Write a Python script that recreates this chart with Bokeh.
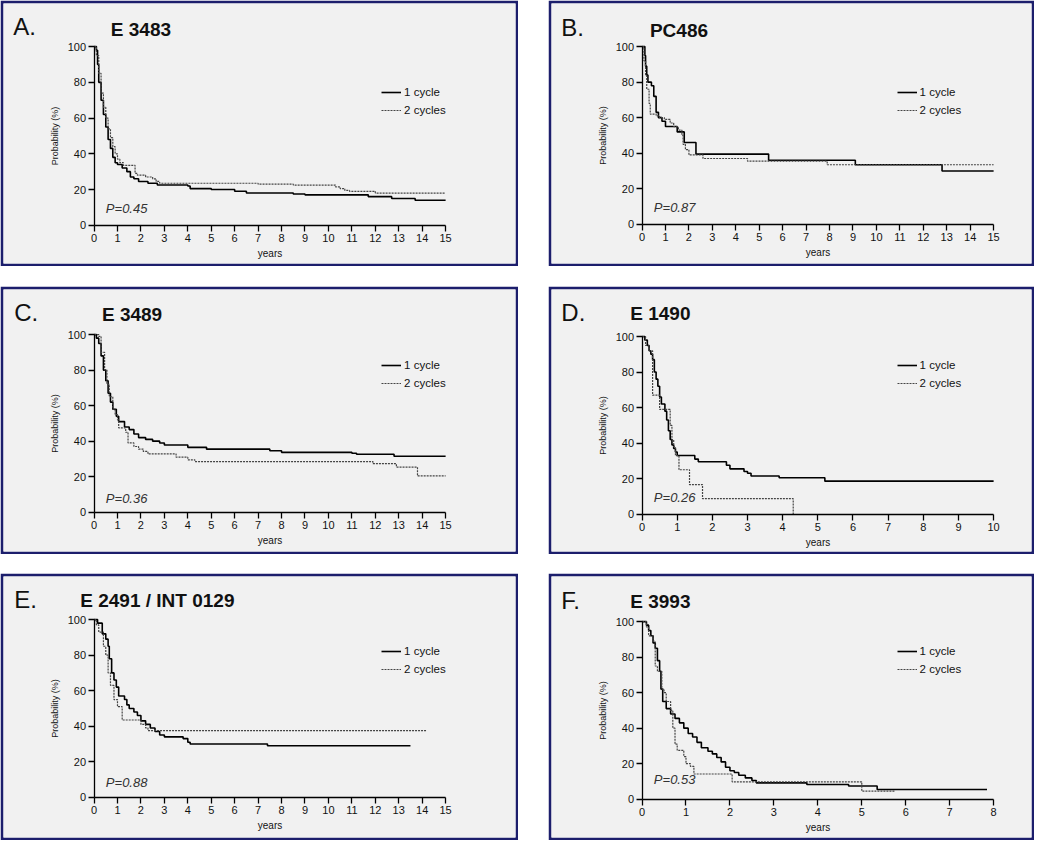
from bokeh.plotting import figure
from bokeh.models import LinearAxis, FixedTicker, Label, Legend, LegendItem, Range1d, Spacer, Grid
from bokeh.layouts import row, column
from bokeh.embed import file_html
from bokeh.resources import INLINE

# ---------------- data ----------------
series_labels = ["1 cycle", "2 cycles"]

# A. E 3483
a_1cycle_t = [0, 0.1, 0.15, 0.2, 0.3, 0.4, 0.5, 0.6, 0.7, 0.8, 0.9, 1.0, 1.2, 1.4, 1.55, 1.7, 1.9, 2.3, 2.7, 4.0, 4.1, 5.0, 6.0, 6.5, 8.5, 9.0, 11.7, 12.7, 13.7, 15.0]
a_1cycle_s = [100, 98, 90, 80, 70, 62, 55, 48, 43, 38, 35, 34, 32, 30, 27, 26, 24.5, 23.5, 22.5, 22, 20.5, 20, 19, 18, 17.5, 17, 16, 15, 14, 14]
a_2cycles_t = [0, 0.1, 0.2, 0.3, 0.4, 0.5, 0.6, 0.7, 0.8, 0.9, 1.0, 1.1, 1.25, 1.75, 1.85, 2.2, 2.5, 2.65, 2.8, 7.0, 8.5, 10.3, 10.5, 10.7, 10.9, 12.0, 15.0]
a_2cycles_s = [100, 95, 85, 74, 66, 60, 54, 49, 44, 40, 37, 35, 33.5, 29, 28, 27, 26, 24.5, 23.5, 23, 22.5, 21.5, 20.5, 19.5, 19, 18, 18]

# B. PC486
b_1cycle_t = [0, 0.12, 0.15, 0.2, 0.25, 0.4, 0.5, 0.6, 0.7, 0.85, 1.0, 1.5, 1.8, 2.3, 5.4, 9.1, 12.8, 15]
b_1cycle_s = [100, 95, 89, 84, 80, 78, 72, 63, 60, 58, 55, 52, 46, 39.5, 36, 33.5, 30, 30]
b_2cycles_t = [0, 0.08, 0.15, 0.2, 0.3, 0.35, 0.6, 0.75, 0.95, 1.2, 1.35, 1.55, 1.7, 1.75, 1.85, 2.0, 2.6, 4.5, 7.9, 15]
b_2cycles_s = [100, 92, 84, 76, 68, 62, 61, 60, 59, 57, 55, 53, 50, 45, 42, 39, 37, 35.5, 33.5, 33.5]

# C. E 3489
c_1cycle_t = [0, 0.1, 0.2, 0.3, 0.4, 0.5, 0.6, 0.7, 0.8, 0.95, 1.05, 1.3, 1.5, 1.7, 1.9, 2.2, 2.5, 2.8, 3.0, 4.0, 4.8, 7.5, 8.0, 11.0, 11.2, 12.8, 15]
c_1cycle_s = [100, 98, 95, 88, 80, 74, 67, 62, 58, 54, 51, 48, 46.5, 44, 42, 41, 40, 39, 37.8, 36.5, 35.5, 34.6, 33.7, 33.2, 32.6, 31.5, 31.5]
c_2cycles_t = [0, 0.2, 0.3, 0.45, 0.55, 0.65, 0.8, 0.9, 1.0, 1.05, 1.35, 1.45, 1.7, 1.9, 2.1, 2.3, 3.5, 4.0, 4.3, 11.9, 12.9, 13.8, 15]
c_2cycles_s = [100, 99, 90, 80, 72, 65, 58, 55, 52, 47.5, 45, 39, 37, 35.5, 34.2, 32.8, 31, 29.5, 28.5, 27.3, 25.4, 20.4, 20.4]

# D. E 1490
d_1cycle_t = [0, 0.08, 0.15, 0.2, 0.25, 0.3, 0.35, 0.4, 0.45, 0.5, 0.55, 0.65, 0.7, 0.75, 0.8, 0.85, 0.9, 0.95, 1.0, 1.5, 1.6, 2.4, 2.5, 2.9, 3.0, 3.1, 3.9, 5.2, 10]
d_1cycle_s = [100, 98, 95, 92, 90, 87, 80, 76, 72, 66, 62, 58, 53, 47, 42, 39, 37, 35, 33, 31, 29.5, 27.5, 25.5, 24, 23, 21.5, 20.5, 18.6, 18.6]
d_2cycles_t = [0, 0.1, 0.2, 0.3, 0.5, 0.8, 0.85, 0.9, 0.95, 1.05, 1.35, 1.72, 4.3]
d_2cycles_s = [100, 95, 92, 67, 59, 50, 42, 38, 33, 25, 16.6, 8.7, 0]

# E. E 2491 / INT 0129
e_1cycle_t = [0, 0.15, 0.35, 0.5, 0.6, 0.65, 0.75, 0.85, 0.95, 1.05, 1.3, 1.4, 1.5, 1.7, 1.85, 2.0, 2.2, 2.4, 2.6, 2.8, 3.0, 3.8, 4.0, 4.1, 7.4, 13.5]
e_1cycle_s = [100, 98, 92, 89, 85, 78, 70, 66, 62, 57, 55, 52, 50, 48, 46, 43, 41, 39, 37, 35, 34, 33, 31, 30, 29, 29]
e_2cycles_t = [0, 0.1, 0.2, 0.4, 0.5, 0.6, 0.7, 0.85, 1.0, 1.2, 2.0, 2.2, 2.3, 14.2]
e_2cycles_s = [100, 97, 93, 85, 80, 70, 63, 55, 51, 43.5, 41, 39, 37.5, 37.5]

# F. E 3993
f_1cycle_t = [0, 0.1, 0.15, 0.2, 0.25, 0.3, 0.35, 0.4, 0.43, 0.47, 0.55, 0.65, 0.75, 0.85, 0.95, 1.05, 1.15, 1.25, 1.35, 1.5, 1.6, 1.7, 1.8, 1.9, 2.0, 2.1, 2.2, 2.35, 2.5, 2.6, 3.75, 4.7, 5.35, 7.85]
f_1cycle_s = [100, 98, 95, 92, 88, 85, 78, 72, 62, 55, 51, 48, 45.5, 43, 40, 37, 35, 32, 29, 27, 25.5, 23.5, 21, 18, 16, 15, 13.5, 12, 10.5, 9.2, 8.3, 7.4, 5.5, 5.5]
f_2cycles_t = [0, 0.1, 0.15, 0.25, 0.3, 0.35, 0.45, 0.5, 0.55, 0.65, 0.7, 0.75, 0.8, 0.95, 1.0, 1.1, 1.18, 2.05, 5.0, 5.75]
f_2cycles_s = [100, 97, 92, 89, 75, 72, 62, 60, 55, 50, 40, 31, 27.5, 24, 20, 18.5, 14.2, 9.8, 4.5, 4.5]

panel_letters = ["A.", "B.", "C.", "D.", "E.", "F."]
panel_titles = ["E 3483", "PC486", "E 3489", "E 1490", "E 2491  / INT 0129", "E 3993"]
panel_xmax = [15, 15, 15, 10, 15, 8]
panel_pvalues = ["P=0.45", "P=0.87", "P=0.36", "P=0.26", "P=0.88", "P=0.53"]
y_ticks = [0, 20, 40, 60, 80, 100]
x_label = "years"
y_label = "Probability (%)"

# ---------------- styling / geometry ----------------
SX = 1034 / 1050
SY = 840 / 856
BW = 3
NAVY = "#1c1e6c"
BG = "#f1f1f1"
FONT = "Liberation Sans"

# reference-pixel geometry of each panel (relative to its own top-left)
GEOM = [
    dict(X0=95, X1=452, Y100=47, Y0=229, let=(13, 27), tit=(112, 30), leg=(387, 94), pv=(107, 212)),
    dict(X0=95, X1=452, Y100=47, Y0=228, let=(13, 27.5), tit=(103, 30.5), leg=(354, 94), pv=(107, 211)),
    dict(X0=95, X1=452, Y100=49, Y0=230, let=(14, 27), tit=(103, 29), leg=(387, 80), pv=(107, 216)),
    dict(X0=95, X1=452, Y100=51, Y0=232, let=(13, 27), tit=(83, 28), leg=(354, 80), pv=(107, 215)),
    dict(X0=95, X1=452, Y100=47, Y0=228, let=(14, 26), tit=(81, 28), leg=(387, 79), pv=(107, 213)),
    dict(X0=95, X1=452, Y100=49, Y0=230, let=(13, 28), tit=(83, 29), leg=(354, 79), pv=(107, 210)),
]
WIDTHS = [518, 486]
HEIGHTS = [266, 268, 267]


def make_panel(i, w, h, t1, s1, t2, s2):
    g = GEOM[i]
    xmax = panel_xmax[i]
    fx0 = g["X0"] * SX - BW
    fx1 = g["X1"] * SX - BW
    FW = w - 2 * BW
    kx = xmax / (fx1 - fx0)
    fy100 = g["Y100"] * SY - BW
    fy0 = g["Y0"] * SY - BW
    FH = h - 2 * BW
    ky = 100.0 / (fy0 - fy100)

    def dx(px):
        return (px * SX - BW - fx0) * kx

    def dy(py):
        return (fy0 - (py * SY - BW)) * ky

    p = figure(width=w, height=h,
               x_range=Range1d(-fx0 * kx, (FW - fx0) * kx),
               y_range=Range1d(-(FH - fy0) * ky, fy0 * ky),
               x_axis_location=None, y_axis_location=None,
               toolbar_location=None, output_backend="svg",
               title_location=None, min_border=BW,
               border_fill_color=NAVY, background_fill_color=BG,
               outline_line_color=None)
    for r in list(p.center):
        if isinstance(r, Grid):
            r.visible = False
    p.grid.visible = False

    xa = LinearAxis(fixed_location=0, bounds=(0, xmax),
                    ticker=FixedTicker(ticks=list(range(xmax + 1))),
                    axis_label=x_label)
    ya = LinearAxis(fixed_location=0, bounds=(0, 100),
                    ticker=FixedTicker(ticks=y_ticks),
                    axis_label=y_label)
    for ax in (xa, ya):
        ax.axis_line_color = "black"
        ax.axis_line_width = 1.3
        ax.major_tick_line_color = "black"
        ax.major_tick_line_width = 1.3
        ax.major_tick_out = 6
        ax.major_tick_in = 0
        ax.minor_tick_out = 0
        ax.minor_tick_in = 0
        ax.major_label_text_font = FONT
        ax.major_label_text_font_size = "11px"
        ax.major_label_text_color = "#111111"
        ax.axis_label_text_font = FONT
        ax.axis_label_text_font_style = "normal"
        ax.axis_label_text_color = "#111111"
    xa.major_label_standoff = 3
    xa.axis_label_text_font_size = "10px"
    xa.axis_label_standoff = 2
    ya.major_label_standoff = 2
    ya.axis_label_text_font_size = "9px"
    ya.axis_label_standoff = 5
    p.add_layout(xa, "below")
    p.add_layout(ya, "left")

    r1 = p.step(t1, s1, mode="after", line_color="black", line_width=1.6)
    r2 = p.step(t2, s2, mode="after", line_color="#444444", line_width=1.2, line_dash="2 1")

    # legend (screen position relative to frame bottom-left)
    lx, ly = g["leg"]
    top = ly * SY - 9
    vx = lx * SX - BW
    vy = FH - (top + 36 - BW)
    leg = Legend(items=[LegendItem(label=series_labels[0], renderers=[r1]),
                        LegendItem(label=series_labels[1], renderers=[r2])],
                 location=(vx, vy), padding=0, margin=0, spacing=0,
                 glyph_width=20, glyph_height=18, label_height=18,
                 label_standoff=3, label_text_font=FONT,
                 label_text_font_size="11.5px", label_text_color="#111111",
                 background_fill_alpha=0, border_line_alpha=0)
    p.add_layout(leg)

    lx_, ly_ = g["let"]
    p.add_layout(Label(x=dx(lx_), y=dy(ly_), text=panel_letters[i], text_font=FONT,
                       text_font_size="24px", text_baseline="middle", text_align="left",
                       text_color="#111111"))
    tx, ty = g["tit"]
    p.add_layout(Label(x=dx(tx), y=dy(ty), text=panel_titles[i], text_font=FONT,
                       text_font_size="19px", text_font_style="bold",
                       text_baseline="middle", text_align="left", text_color="#111111"))
    px_, py_ = g["pv"]
    p.add_layout(Label(x=dx(px_), y=dy(py_), text=panel_pvalues[i], text_font=FONT,
                       text_font_size="13px", text_font_style="italic",
                       text_baseline="middle", text_align="left", text_color="#333333"))
    return p


data = [
    (a_1cycle_t, a_1cycle_s, a_2cycles_t, a_2cycles_s),
    (b_1cycle_t, b_1cycle_s, b_2cycles_t, b_2cycles_s),
    (c_1cycle_t, c_1cycle_s, c_2cycles_t, c_2cycles_s),
    (d_1cycle_t, d_1cycle_s, d_2cycles_t, d_2cycles_s),
    (e_1cycle_t, e_1cycle_s, e_2cycles_t, e_2cycles_s),
    (f_1cycle_t, f_1cycle_s, f_2cycles_t, f_2cycles_s),
]
for d in data:
    assert len(d[0]) == len(d[1]) and len(d[2]) == len(d[3])

panels = []
for i, d in enumerate(data):
    w = WIDTHS[i % 2]
    h = HEIGHTS[i // 2]
    panels.append(make_panel(i, w, h, *d))

layout = column(
    row(panels[0], Spacer(width=30, height=HEIGHTS[0]), panels[1]),
    Spacer(width=1034, height=20),
    row(panels[2], Spacer(width=30, height=HEIGHTS[1]), panels[3]),
    Spacer(width=1034, height=19),
    row(panels[4], Spacer(width=30, height=HEIGHTS[2]), panels[5]),
)

open("out.html", "w").write(file_html(layout, INLINE))
